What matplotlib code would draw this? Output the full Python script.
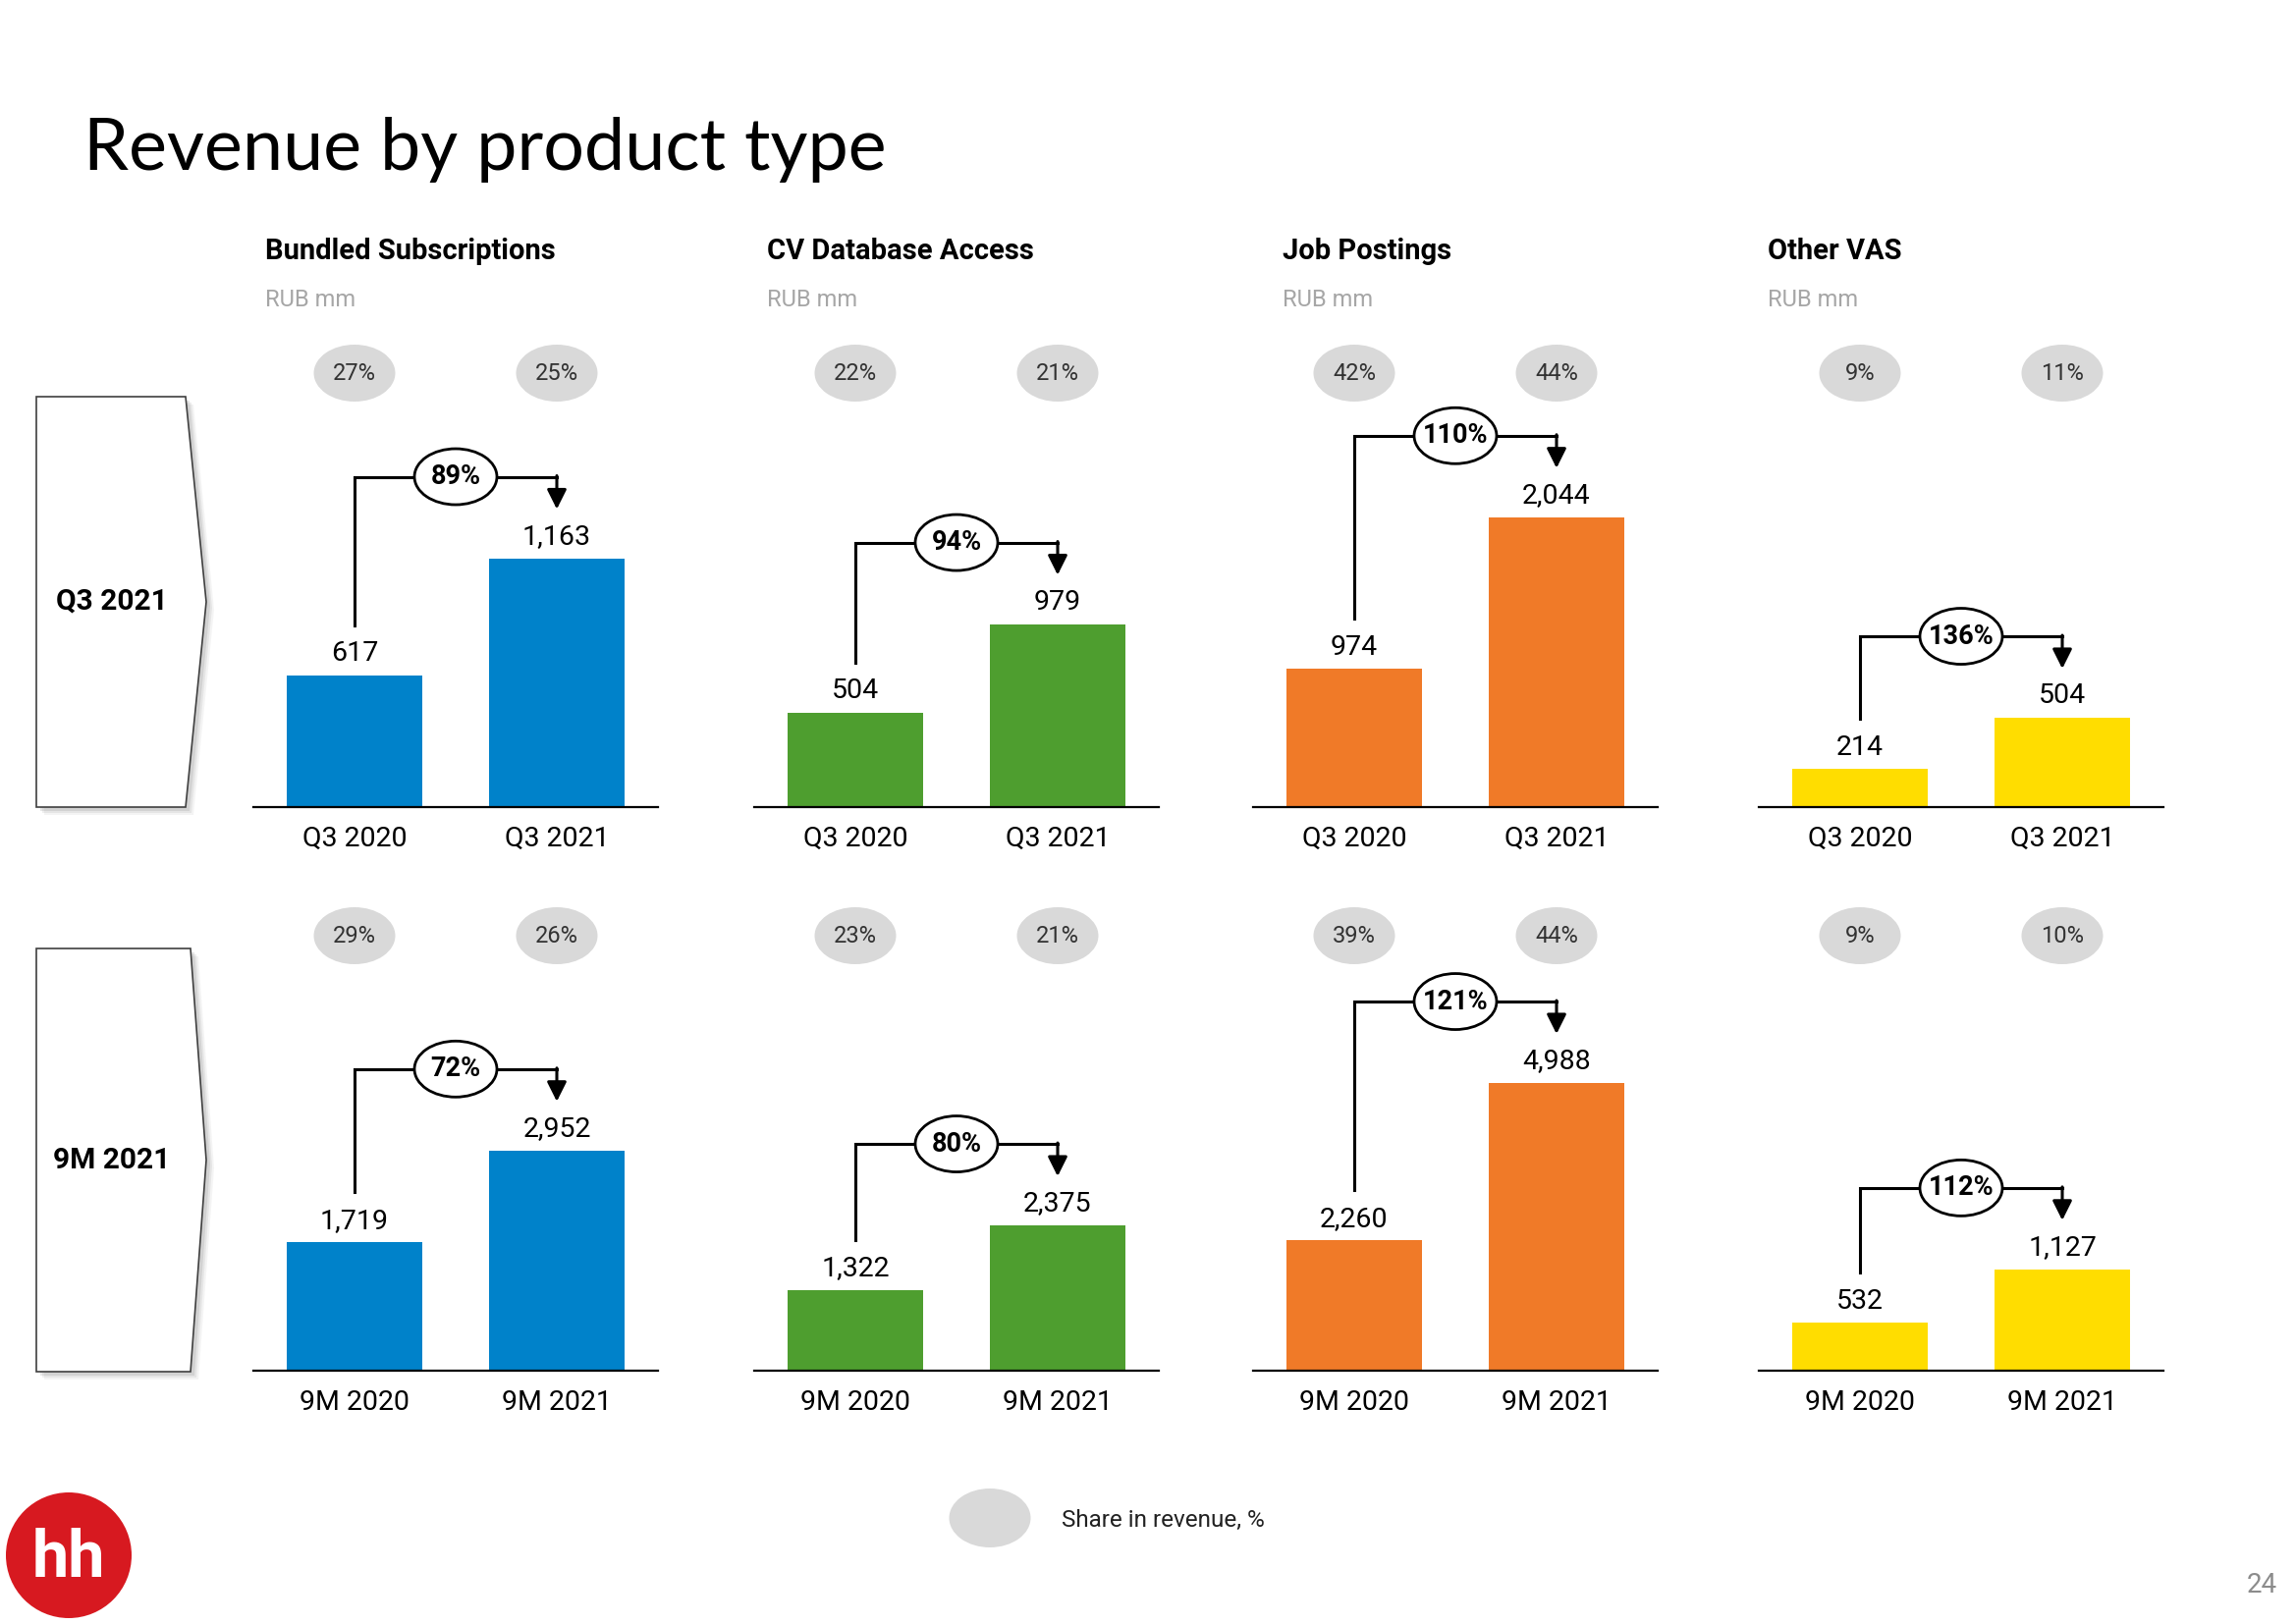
import numpy as np
import matplotlib
matplotlib.use("Agg")
import matplotlib.pyplot as plt
from matplotlib import font_manager
from matplotlib.patches import Ellipse, Polygon, Circle
from matplotlib.transforms import blended_transform_factory

# ---- data ----
products = ["Bundled Subscriptions", "CV Database Access", "Job Postings", "Other VAS"]
colors = ["#0082CA", "#4E9E2F", "#F07A28", "#FFDD00"]

q3_labels = ["Q3 2020", "Q3 2021"]
nm_labels = ["9M 2020", "9M 2021"]

q3_2020 = [617, 504, 974, 214]
q3_2021 = [1163, 979, 2044, 504]
nm_2020 = [1719, 1322, 2260, 532]
nm_2021 = [2952, 2375, 4988, 1127]

q3_growth = [89, 94, 110, 136]
nm_growth = [72, 80, 121, 112]

q3_share_2020 = [27, 22, 42, 9]
q3_share_2021 = [25, 21, 44, 11]
nm_share_2020 = [29, 23, 39, 9]
nm_share_2021 = [26, 21, 44, 10]

# per-panel axis tops (each small chart has its own scale)
ymax_q3 = [2028, 2321, 3060, 2449]
ymax_nm = [5833, 7112, 7543, 4841]

# ---- fonts ----
names = {f.name for f in font_manager.fontManager.ttflist}
narrow = "Liberation Sans Narrow" if "Liberation Sans Narrow" in names else "Roboto"
head = "Lato" if "Lato" in names else "DejaVu Sans"
plt.rcParams["font.family"] = [narrow, "DejaVu Sans"]

W, H = 2338, 1654
fig = plt.figure(figsize=(W / 100, H / 100), dpi=100)
fig.patch.set_facecolor("white")


def rect(l, t, w, h):
    return [l / W, 1 - (t + h) / H, w / W, h / H]


# overlay in pixel coordinates for slide decorations
bg = fig.add_axes([0, 0, 1, 1])
bg.set_xlim(0, W)
bg.set_ylim(H, 0)
bg.axis("off")
bg.patch.set_alpha(0)

bg.text(85, 173, "Revenue by product type", fontsize=53, family=head,
        color="black", ha="left", va="baseline")

# row chevrons
for (top, bot, tipx, right, label) in [(404, 822, 210, 189, "Q3 2021"),
                                       (966, 1397, 210, 194, "9M 2021")]:
    mid = (top + bot) / 2
    pts = [(37, top), (right, top), (tipx, mid), (right, bot), (37, bot)]
    for k, a in [(8, 0.08), (6, 0.12), (4, 0.18)]:
        sh = [(x + k, y + k) for x, y in pts]
        bg.add_patch(Polygon(sh, closed=True, facecolor="#7f7f7f", edgecolor="none", alpha=a))
    bg.add_patch(Polygon(pts, closed=True, facecolor="white", edgecolor="#404040", lw=1.2))
    bg.text(114, mid, label, fontsize=21.5, fontweight="bold", ha="center", va="center")

# logo
bg.add_patch(Circle((70, 1584), 64, facecolor="#D71920", edgecolor="none"))
bg.text(70, 1588, "hh", fontsize=48, fontweight="bold", color="white",
        ha="center", va="center", family=narrow)

# legend
bg.add_patch(Ellipse((1008, 1546), 83, 60, facecolor="#D9D9D9", edgecolor="none"))
bg.text(1081, 1548, "Share in revenue, %", fontsize=17.5, color="#222222",
        ha="left", va="center")

bg.text(2303, 1615, "24", fontsize=20, color="#8c8c8c", ha="center", va="center")

# ---- panels ----
lefts = [258, 768, 1276, 1791]
title_x = [270, 781, 1306, 1800]
panel_w = 412
rows = [
    (380, 822, q3_labels, q3_2020, q3_2021, q3_growth, q3_share_2020, q3_share_2021, ymax_q3),
    (953, 1396, nm_labels, nm_2020, nm_2021, nm_growth, nm_share_2020, nm_share_2021, ymax_nm),
]

for r, (top, base, cats, v0s, v1s, growth, s0s, s1s, ymaxs) in enumerate(rows):
    ah = base - top
    for p in range(4):
        ax = fig.add_axes(rect(lefts[p], top, panel_w, ah))
        ax.patch.set_alpha(0)
        vals = [v0s[p], v1s[p]]
        ax.bar([0, 1], vals, width=0.67, color=colors[p], zorder=2)
        ax.set_xlim(-0.5, 1.5)
        ax.set_ylim(0, ymaxs[p])
        for s in ["top", "left", "right"]:
            ax.spines[s].set_visible(False)
        ax.spines["bottom"].set_linewidth(1.6)
        ax.set_yticks([])
        ax.set_xticks([0, 1])
        ax.set_xticklabels(cats, fontsize=20.5)
        ax.tick_params(axis="x", length=0, pad=13.5)

        for i, v in enumerate(vals):
            ax.annotate(f"{v:,}", (i, v), xytext=(0, 10.5), textcoords="offset points",
                        ha="center", va="baseline", fontsize=20.5)

        bl = blended_transform_factory(ax.transData, ax.transAxes)
        px = 1.0 / ah
        # share bubbles
        for i, s in enumerate([s0s[p], s1s[p]]):
            ax.add_patch(Ellipse((i, 1.0), 83 / 206, 58 * px, transform=bl,
                                 facecolor="#D9D9D9", edgecolor="none", clip_on=False))
            ax.text(i, 1.0, f"{s}%", transform=bl, ha="center", va="center",
                    fontsize=17, color="#333333")

        # growth bracket
        y_start = vals[0] / ymaxs[p] + 51 * px
        y_br = max(vals) / ymaxs[p] + 83 * px
        y_tip = vals[1] / ymaxs[p] + 50 * px
        ax.plot([0, 0, 1], [y_start, y_br, y_br], color="black", lw=2.2,
                transform=bl, clip_on=False, solid_joinstyle="miter")
        ax.annotate("", xy=(1, y_tip), xytext=(1, y_br + 1 * px), xycoords=bl, textcoords=bl,
                    arrowprops=dict(arrowstyle="-|>,head_length=0.6,head_width=0.3",
                                    mutation_scale=20, lw=2.2, color="black",
                                    shrinkA=0, shrinkB=0))
        ax.add_patch(Ellipse((0.5, y_br), 84 / 206, 57 * px, transform=bl,
                             facecolor="white", edgecolor="black", lw=2.0,
                             clip_on=False, zorder=4))
        ax.text(0.5, y_br, f"{growth[p]}%", transform=bl, ha="center", va="center",
                fontsize=19.5, fontweight="bold", zorder=5)

        if r == 0:
            fig.text(title_x[p] / W, 1 - 256 / H, products[p], fontsize=21,
                     fontweight="bold", ha="left", va="center")
            fig.text(title_x[p] / W, 1 - 305 / H, "RUB mm", fontsize=17,
                     color="#A6A6A6", ha="left", va="center")

fig.savefig("out.png", dpi=100)
